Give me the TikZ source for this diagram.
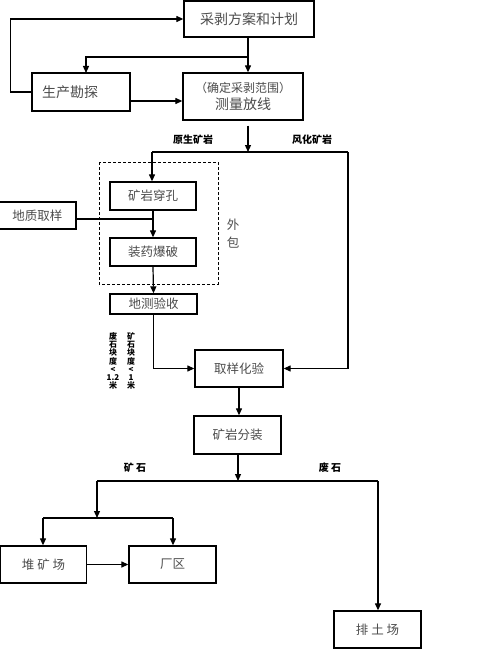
\documentclass[tikz,border=0pt]{standalone}
\usepackage{fontspec}
\newfontfamily\cjk{Noto Sans CJK SC}
\usetikzlibrary{arrows.meta}
\begin{document}
\begin{tikzpicture}[x=1pt,y=-1pt,
  box/.style={draw,line width=1.3pt,inner sep=0pt,font=\cjk\fontsize{12.5}{14}\selectfont,text=black!70,align=center},
  bigtext/.style={font=\cjk\fontsize{14}{16}\selectfont},
  arr/.style={-{Triangle[length=7pt,width=6pt]}},
  lbl/.style={font=\cjk\bfseries\fontsize{10}{11}\selectfont,text=black},
  vlbl/.style={font=\cjk\bfseries\fontsize{8}{8.3}\selectfont,align=center,text=black,inner sep=0pt},
  every path/.style={line width=1.2pt}]
\useasboundingbox (0,0) rectangle (500,650);
\fill[white] (0,0) rectangle (500,650);

% boxes
\node[box,bigtext,minimum width=130pt,minimum height=36pt] (plan) at (249,19) {采剥方案和计划};
\node[box,bigtext,minimum width=98pt,minimum height=38pt,text width=78pt,align=left,inner xsep=10pt] (explore) at (81,92) {生产勘探};
\node[box,bigtext,minimum width=120pt,minimum height=47pt] (survey) at (243,96.5) {{\fontsize{12}{13}\selectfont（确定采剥范围）}\\[1pt]测量放线};
\node[box,minimum width=86pt,minimum height=28pt] (drill) at (153,196) {矿岩穿孔};
\node[box,minimum width=77pt,minimum height=27pt] (sample) at (37.5,215.5) {地质取样};
\node[box,minimum width=86pt,minimum height=28pt] (blast) at (153,252) {装药爆破};
\node[box,minimum width=87pt,minimum height=20pt] (accept) at (153.5,304) {地测验收};
\node[box,minimum width=88pt,minimum height=37pt] (assay) at (239,368.5) {取样化验};
\node[box,minimum width=87pt,minimum height=38pt] (sort) at (237.5,435) {矿岩分装};
\node[box,minimum width=86pt,minimum height=37pt] (stock) at (43.5,564.5) {堆\ 矿\ 场};
\node[box,minimum width=87pt,minimum height=37pt] (plant) at (172.5,564.5) {厂区};
\node[box,minimum width=87pt,minimum height=37pt] (dump) at (377.5,629.5) {排\ 土\ 场};

% dashed outsourcing frame
\draw[dashed,dash pattern=on 3pt off 2pt,line width=1pt] (99,162) rectangle (218,284);
\node[font=\cjk\fontsize{12.5}{18}\selectfont,text=black!70,align=center] (wb) at (233,234) {外\\包};

% junction coordinates
\coordinate (j1) at (248,57);
\coordinate (j2) at (248,152);
\coordinate (jl) at (152,152);
\coordinate (jr) at (348,152);
\coordinate (js) at (153,219);
\coordinate (j3) at (238,481);
\coordinate (j3l) at (97,481);
\coordinate (j3r) at (378,481);
\coordinate (j4) at (97,518);
\coordinate (j4l) at (43,518);
\coordinate (j4r) at (173,518);

% connectors
\draw[arr] (explore.west) -- ++(-21,0) |- (plan.west);
\draw[arr] (plan.south -| j1) -- (survey.north -| j1);
\draw[arr] (j1) -| (86,73);
\draw[arr] (explore.east |- 0,101) -- (survey.west |- 0,101);
\draw[arr] (survey.south -| j2) ++(0,5) -- (j2);
\draw (jl) -- (jr);
\draw[arr] (jl) -- (drill.north -| jl);
\draw[arr] (jr) |- (assay.east);
\draw[arr] (drill.south) -- (blast.north);
\draw (sample.east |- js) -- (js);
\draw[arr] (blast.south) -- (accept.north);
\draw[arr] (accept.south) |- (assay.west);
\draw[arr] (assay.south -| 239,0) -- (sort.north -| 239,0);
\draw[arr] (sort.south -| j3) -- (j3);
\draw (j3l) -- (j3r);
\draw[arr] (j3l) -- (j4);
\draw (j4l) -- (j4r);
\draw[arr] (j4l) -- (stock.north -| j4l);
\draw[arr] (j4r) -- (plant.north -| j4r);
\draw[arr] (stock.east) -- (plant.west);
\draw[arr] (j3r) -- (dump.north -| j3r);

% labels
\node[lbl] (l1) at (193,140) {原生矿岩};
\node[lbl] (l2) at (312,140) {风化矿岩};
\node[vlbl] (l3) at (113,361) {废\\石\\块\\度\\<\\1.2\\米};
\node[vlbl] (l4) at (131,361) {矿\\石\\块\\度\\<\\1\\米};
\node[lbl] (l5) at (135,468) {矿\ 石};
\node[lbl] (l6) at (330,468) {废\ 石};
\end{tikzpicture}
\end{document}
